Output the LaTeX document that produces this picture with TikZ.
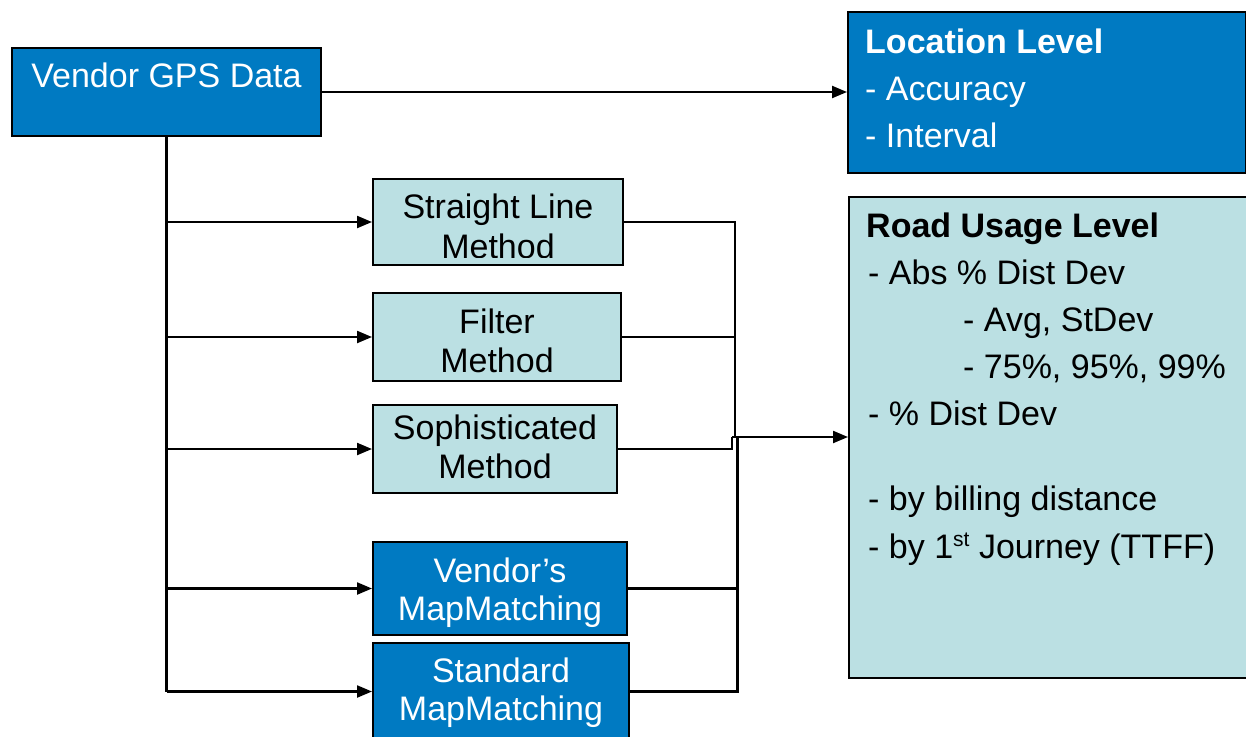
\documentclass[tikz,border=0pt]{standalone}
\usepackage{fontspec}
\setmainfont{Liberation Sans}
\usetikzlibrary{arrows.meta,calc}
\definecolor{boxblue}{RGB}{0,122,194}
\definecolor{boxpale}{RGB}{187,224,227}
\newcommand\bodysize{\fontsize{34}{40}\selectfont}
\newcommand\supst{\raisebox{12pt}{\fontsize{21}{21}\selectfont st}}

\begin{document}
\begin{tikzpicture}[x=1pt,y=-1pt,
  box/.style={draw=black, line width=2pt, inner sep=0pt, anchor=north west},
  darkbox/.style={box, fill=boxblue},
  palebox/.style={box, fill=boxpale},
  txt/.style={inner sep=0pt, anchor=base, font=\bodysize},
  ltxt/.style={txt, anchor=base west},
  link/.style={line width=2.2pt},
  trunk/.style={line width=2.6pt},
  feed/.style={line width=2.2pt, -{Triangle[length=15pt,width=12pt]}}
]
\useasboundingbox (0,0) rectangle (1246,736);

% --- boxes ---------------------------------------------------------------
\node[darkbox, minimum width=309pt, minimum height=88pt]  (gps)  at (11,47)   {};
\node[darkbox, minimum width=398pt, minimum height=161pt] (loc)  at (847,11)  {};
\node[palebox, minimum width=410pt, minimum height=481pt] (road) at (848,196) {};
\node[palebox, minimum width=250pt, minimum height=86pt]  (sl)   at (372,178) {};
\node[palebox, minimum width=248pt, minimum height=88pt]  (fm)   at (372,292) {};
\node[palebox, minimum width=244pt, minimum height=88pt]  (sm)   at (372,404) {};
\node[darkbox, minimum width=254pt, minimum height=93pt]  (vm)   at (372,541) {};
\node[darkbox, minimum width=256pt, minimum height=97pt]  (st)   at (372,642) {};

% --- box texts -----------------------------------------------------------
\node[txt, text=white] (gpsT) at ($(gps.north)+(0,40)$) {Vendor GPS Data};

\begin{scope}
  \clip (sl.north west) rectangle ([yshift=9pt]sl.south east);
  \node[txt] (slA) at ($(sl.north)+(0,40.5)$) {Straight Line};
  \node[txt] (slB) at ($(sl.north)+(0,80)$) {Method};
\end{scope}
\begin{scope}
  \clip (fm.north west) rectangle ([yshift=9pt]fm.south east);
  \node[txt] (fmA) at ($(fm.north)+(0,41.5)$) {Filter};
  \node[txt] (fmB) at ($(fm.north)+(0,80.5)$) {Method};
\end{scope}
\begin{scope}
  \clip (sm.north west) rectangle ([yshift=9pt]sm.south east);
  \node[txt] (smA) at ($(sm.north)+(0,35)$) {Sophisticated};
  \node[txt] (smB) at ($(sm.north)+(0,74)$) {Method};
\end{scope}
\begin{scope}
  \clip (vm.north west) rectangle ([yshift=8pt]vm.south east);
  \node[txt, text=white] (vmA) at ($(vm.north)+(0,41)$) {Vendor’s};
  \node[txt, text=white] (vmB) at ($(vm.north)+(0,79)$) {MapMatching};
\end{scope}
\node[txt, text=white] (stA) at ($(st.north)+(0,40)$) {Standard};
\node[txt, text=white] (stB) at ($(st.north)+(0,78)$) {MapMatching};

% location level list
\node[ltxt, text=white, font=\bodysize\bfseries] (locH) at (865,53) {Location Level};
\node[ltxt, text=white] (locA) at (865,100) {- Accuracy};
\node[ltxt, text=white] (locB) at (865,147) {- Interval};

% road usage level list
\node[ltxt, font=\bodysize\bfseries] (rdH) at (866,237) {Road Usage Level};
\node[ltxt] (rd1) at (868,284) {- Abs \% Dist Dev};
\node[ltxt] (rd2) at (963,331) {- Avg, StDev};
\node[ltxt] (rd3) at (963,378) {- 75\%, 95\%, 99\%};
\node[ltxt] (rd4) at (868,425) {- \% Dist Dev};
\node[ltxt] (rd5) at (868,510) {- by billing distance};
\node[ltxt] (rd6) at (868,558) {- by 1\supst{} Journey (TTFF)};

% --- connectors ----------------------------------------------------------
\draw[feed] (gps.east) -- (gps.east -| loc.west);

\coordinate (trunkEnd) at (gps.south |- st.west);
\draw[trunk] (gps.south) -- (trunkEnd);
\foreach \b in {sl,fm,sm,vm,st}
  \draw[feed] (gps.south |- \b.west) -- (\b.west);

\coordinate (joinA) at (735,437);
\coordinate (joinB) at (737.5,437);
\coordinate (joinC) at (732,437);
\draw[link] (sl.east) -| (joinA);
\draw[link] (fm.east) -| (joinA);
\draw[link] (sm.east) -| (joinC);
\draw[link] (vm.east) -| (joinB);
\draw[link] (st.east) -| (joinB);
\draw[feed] (joinC) -- (joinC -| road.west);
\end{tikzpicture}
\end{document}
